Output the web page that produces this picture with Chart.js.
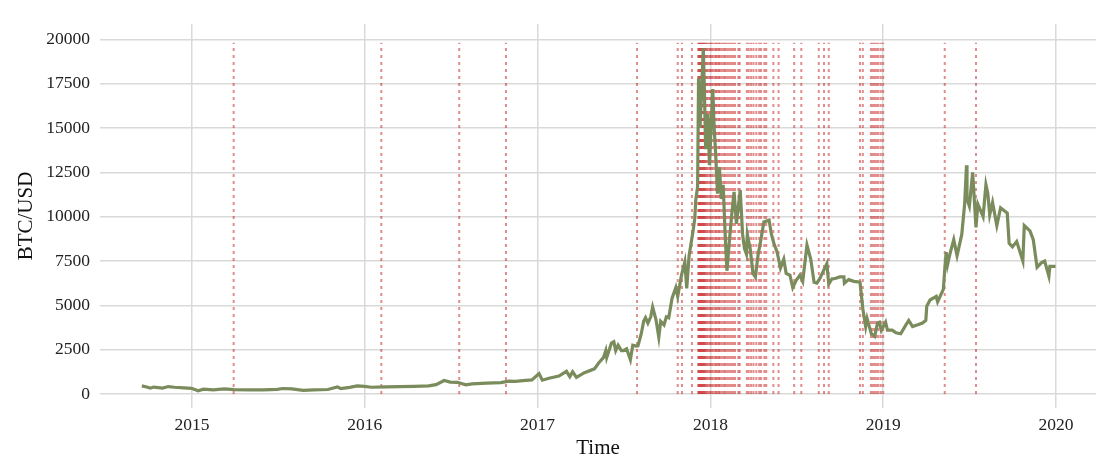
<!DOCTYPE html>
<html>
<head>
<meta charset="utf-8">
<script src="https://cdn.jsdelivr.net/npm/chart.js@4.4.1/dist/chart.umd.min.js"></script>
<style>
  html, body { margin: 0; padding: 0; background: #ffffff; }
  #wrap { width: 1096px; height: 461px; position: relative; }
</style>
</head>
<body>
<div id="wrap"><canvas id="btcChart"></canvas></div>
<script>
// data
const priceDates = [
    '2014-09-17','2014-09-25','2014-10-05','2014-10-12','2014-10-31','2014-11-12','2014-11-25','2014-12-15','2014-12-31',
    '2015-01-14','2015-01-25','2015-02-15','2015-03-10','2015-03-31','2015-04-30','2015-05-31','2015-06-30','2015-07-12',
    '2015-07-31','2015-08-24','2015-09-15','2015-10-15','2015-11-04','2015-11-11','2015-11-30','2015-12-16','2015-12-31',
    '2016-01-15','2016-02-15','2016-03-15','2016-04-15','2016-05-15','2016-05-31','2016-06-17','2016-06-30','2016-07-15',
    '2016-08-02','2016-08-15','2016-09-15','2016-10-15','2016-11-01','2016-11-15','2016-12-01','2016-12-20',
    '2017-01-04','2017-01-11','2017-01-25','2017-02-15','2017-03-03','2017-03-10','2017-03-16','2017-03-24','2017-04-10',
    '2017-05-01','2017-05-10','2017-05-20','2017-05-25','2017-05-27','2017-06-06','2017-06-11','2017-06-15','2017-06-20',
    '2017-06-27','2017-07-01','2017-07-08','2017-07-16','2017-07-21','2017-07-28','2017-08-01','2017-08-08','2017-08-13',
    '2017-08-17','2017-08-22','2017-08-28','2017-09-01','2017-09-08','2017-09-14','2017-09-18','2017-09-25','2017-09-30',
    '2017-10-05','2017-10-12','2017-10-20','2017-10-24','2017-11-01','2017-11-08','2017-11-12','2017-11-17','2017-11-26',
    '2017-11-29','2017-12-01','2017-12-05','2017-12-07','2017-12-10','2017-12-13','2017-12-17','2017-12-19','2017-12-22',
    '2017-12-27','2017-12-30','2018-01-06','2018-01-09','2018-01-12','2018-01-16','2018-01-20','2018-01-24','2018-01-28',
    '2018-02-01','2018-02-05','2018-02-10','2018-02-15','2018-02-20','2018-02-25','2018-03-05','2018-03-10','2018-03-14',
    '2018-03-18','2018-03-20','2018-03-26','2018-04-01','2018-04-06','2018-04-12','2018-04-15','2018-04-24','2018-05-05',
    '2018-05-10','2018-05-15','2018-05-22','2018-05-29','2018-06-05','2018-06-10','2018-06-18','2018-06-24','2018-07-01',
    '2018-07-09','2018-07-15','2018-07-24','2018-08-01','2018-08-08','2018-08-14','2018-08-20','2018-08-27','2018-09-04',
    '2018-09-08','2018-09-15','2018-09-20','2018-10-01','2018-10-10','2018-10-11','2018-10-20','2018-10-31','2018-11-13',
    '2018-11-19','2018-11-25','2018-11-28','2018-12-07','2018-12-14','2018-12-20','2018-12-24','2018-12-28','2019-01-06',
    '2019-01-10','2019-01-20','2019-01-28','2019-02-07','2019-02-18','2019-02-24','2019-03-04','2019-03-15','2019-03-25',
    '2019-04-01','2019-04-03','2019-04-10','2019-04-23','2019-04-26','2019-05-08','2019-05-11','2019-05-14','2019-05-17',
    '2019-05-22','2019-05-30','2019-06-06','2019-06-16','2019-06-22','2019-06-26','2019-06-27','2019-07-02','2019-07-09',
    '2019-07-16','2019-07-20','2019-07-31','2019-08-06','2019-08-10','2019-08-14','2019-08-20','2019-08-29','2019-09-06',
    '2019-09-20','2019-09-24','2019-10-01','2019-10-10','2019-10-23','2019-10-26','2019-11-07','2019-11-14','2019-11-22',
    '2019-12-01','2019-12-08','2019-12-17','2019-12-19','2019-12-31'
];
const priceValues = [
    457, 410, 330, 390, 338, 420, 380, 345, 320,
    178, 270, 235, 290, 245, 235, 230, 263, 310,
    284, 210, 230, 255, 400, 310, 378, 455, 430,
    380, 405, 415, 430, 455, 530, 760, 675, 660,
    515, 570, 610, 640, 730, 710, 750, 795,
    1150, 780, 890, 1010, 1280, 980, 1250, 935, 1200,
    1420, 1750, 2050, 2450, 2050, 2870, 2950, 2450, 2750,
    2450, 2450, 2550, 1930, 2750, 2700, 2720, 3400, 4100,
    4300, 4000, 4350, 4900, 4200, 3200, 4100, 3900, 4350,
    4300, 5400, 6000, 5500, 6700, 7450, 5950, 7800, 9300,
    9900, 10900, 11700, 17800, 15000, 16800, 19500, 17500, 13800,
    15800, 12900, 17200, 15000, 13600, 11300, 12800, 11000, 11800,
    9100, 6950, 8600, 10100, 11400, 9600, 11500, 9000, 8200,
    7900, 9000, 8200, 6800, 6600, 7900, 8300, 9700, 9800,
    9000, 8500, 8000, 7100, 7600, 6800, 6700, 6000, 6400,
    6700, 6350, 8400, 7600, 6300, 6250, 6500, 6900, 7350,
    6200, 6500, 6500, 6600, 6600, 6250, 6450, 6350, 6300,
    4800, 3800, 4250, 3400, 3250, 4000, 4050, 3600, 4050,
    3600, 3600, 3450, 3400, 3900, 4150, 3800, 3900, 4000,
    4150, 4950, 5300, 5500, 5200, 5900, 7000, 8000, 7300,
    7900, 8700, 7800, 9000, 10700, 12900, 11000, 10600, 12500,
    9400, 10700, 10000, 11800, 11300, 10100, 10800, 9500, 10500,
    10200, 8500, 8300, 8600, 7500, 9500, 9200, 8700, 7150,
    7400, 7500, 6650, 7200, 7200
];
// dates flagged with the red dotted lines
const alertDates = [
    '2015-03-30','2016-02-05','2016-07-19','2016-10-26','2017-07-30',
    '2017-10-24','2017-11-02','2017-11-23',
    '2017-12-06','2017-12-08','2017-12-10','2017-12-12','2017-12-14','2017-12-16','2017-12-18','2017-12-20',
    '2017-12-22','2017-12-25','2017-12-28','2017-12-31','2018-01-03',
    '2018-01-06','2018-01-10','2018-01-13','2018-01-16','2018-01-19','2018-01-22','2018-01-26','2018-01-30',
    '2018-02-02','2018-02-06','2018-02-10','2018-02-14','2018-02-18','2018-02-22','2018-03-01','2018-03-04',
    '2018-03-19','2018-03-23','2018-03-28','2018-04-02','2018-04-08','2018-04-14','2018-04-18','2018-04-25','2018-04-29',
    '2018-05-14','2018-05-25','2018-06-27','2018-07-12',
    '2018-08-18','2018-08-29','2018-09-08',
    '2018-11-13','2018-11-19',
    '2018-12-06','2018-12-10','2018-12-14','2018-12-18','2018-12-22','2018-12-27','2019-01-01',
    '2019-05-11','2019-07-16'
];
const alertTop = 19800;
const yearTicks = [2015, 2016, 2017, 2018, 2019, 2020];
const priceTicks = [0, 2500, 5000, 7500, 10000, 12500, 15000, 17500, 20000];

// date string -> fractional year
function toYear(s) {
    const [y, m, d] = s.split('-').map(Number);
    const start = Date.UTC(y, 0, 1);
    const end = Date.UTC(y + 1, 0, 1);
    return y + (Date.UTC(y, m - 1, d) - start) / (end - start);
}

const FONT = "'Liberation Serif', 'Times New Roman', serif";
const GRID = '#d9d9d9';

const alertSets = alertDates.map(d => ({
    data: [{ x: toYear(d), y: 0 }, { x: toYear(d), y: alertTop }],
    borderColor: 'rgba(190, 0, 0, 0.45)',
    borderWidth: 2,
    borderDash: [3, 4],
    pointRadius: 0,
    fill: false
}));

// first dataset is drawn on top
const priceSet = {
    label: 'BTC/USD',
    data: priceDates.map((d, i) => ({ x: toYear(d), y: priceValues[i] })),
    borderColor: '#7a8b5c',
    borderWidth: 3.2,
    pointRadius: 0,
    tension: 0,
    fill: false
};

const ctx = document.getElementById('btcChart');

let btcChart = new Chart(ctx, {
    type: 'line',
    data: {
        datasets: [priceSet, ...alertSets]
    },
    options: {
        responsive: true,
        maintainAspectRatio: false,
        animation: false,
        layout: {
            padding: { top: 24, left: 0, right: 0, bottom: 0 }
        },
        plugins: {
            legend: { display: false },
            tooltip: { enabled: false }
        },
        scales: {
            x: {
                type: 'linear',
                min: 2014.4676,
                max: 2020.2315,
                afterBuildTicks: (axis) => { axis.ticks = yearTicks.map(v => ({ value: v })); },
                afterFit: (axis) => { axis.height = 53; },
                border: { display: false },
                grid: {
                    color: GRID,
                    lineWidth: 1.5,
                    drawTicks: false
                },
                ticks: {
                    padding: 7,
                    color: '#222',
                    font: { family: FONT, size: 17.5 },
                    callback: (value) => String(value)
                },
                title: {
                    display: true,
                    text: 'Time',
                    color: '#111',
                    font: { family: FONT, size: 21 },
                    padding: { top: 0, bottom: 0 }
                }
            },
            y: {
                min: -789,
                max: 20863,
                afterBuildTicks: (axis) => { axis.ticks = priceTicks.map(v => ({ value: v })); },
                afterFit: (axis) => { axis.width = 100; },
                border: { display: false },
                grid: {
                    color: GRID,
                    lineWidth: 1.5,
                    drawTicks: false
                },
                ticks: {
                    padding: 10,
                    color: '#222',
                    font: { family: FONT, size: 17.5 },
                    callback: (value) => String(value)
                },
                title: {
                    display: true,
                    text: 'BTC/USD',
                    color: '#111',
                    font: { family: FONT, size: 21 },
                    padding: { top: 14, bottom: 0 }
                }
            }
        }
    }
});
</script>
</body>
</html>
